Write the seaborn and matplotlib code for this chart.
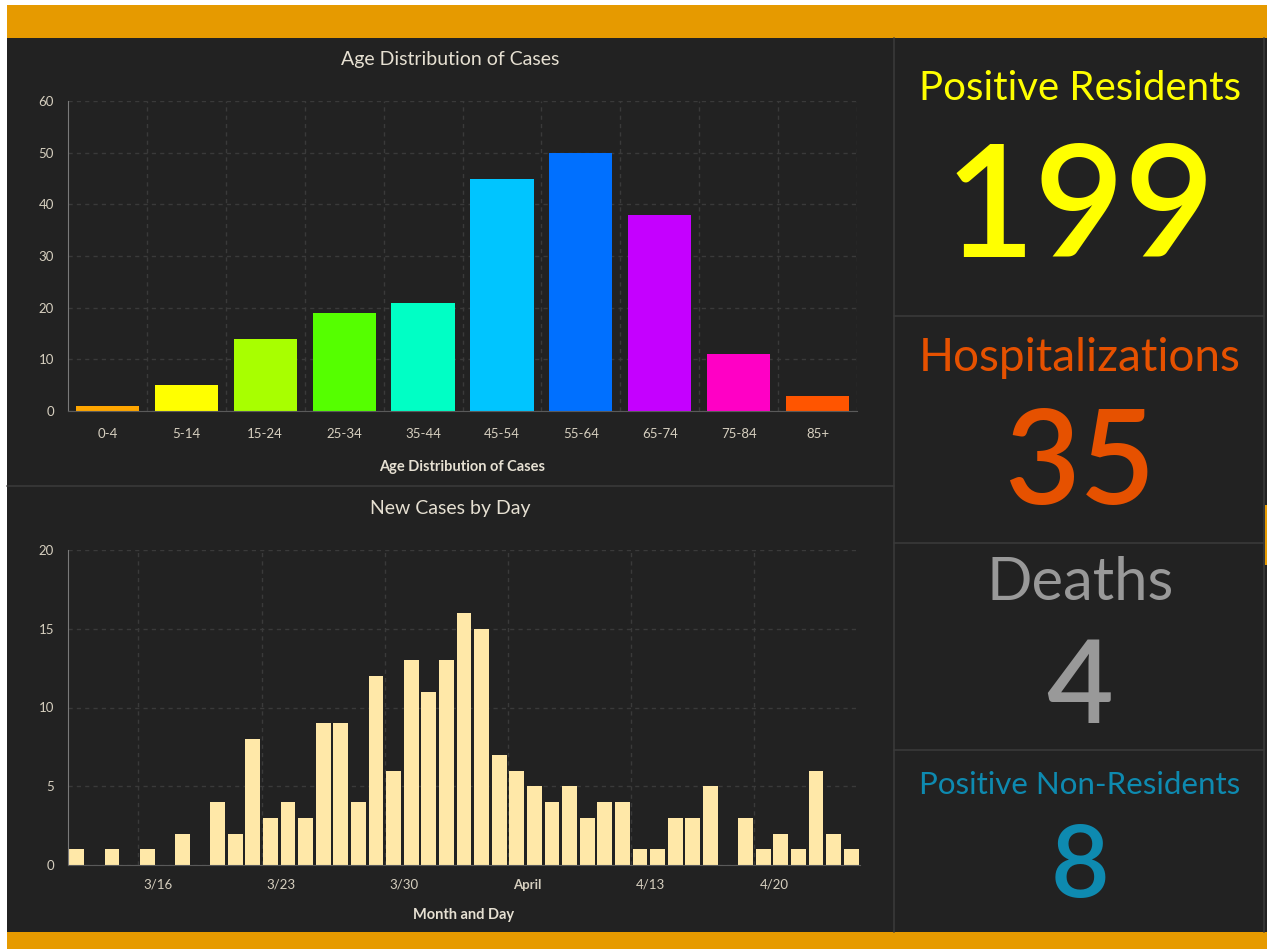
import numpy as np
import pandas as pd
import matplotlib
matplotlib.use('Agg')
import matplotlib.pyplot as plt
import matplotlib.transforms as mtransforms
from matplotlib.patches import Rectangle
from matplotlib.lines import Line2D
import seaborn as sns

# =========================
# DATA
# =========================

age_groups = ['0-4', '5-14', '15-24', '25-34', '35-44',
              '45-54', '55-64', '65-74', '75-84', '85+']
age_cases = [1, 5, 14, 19, 21, 45, 50, 38, 11, 3]
age_colors = ['#ffa600', '#ffff00', '#a8ff00', '#55ff00', '#00ffc5',
              '#00c5ff', '#0070ff', '#c500ff', '#ff00c5', '#ff5500']

# one bar per day, 3/12 .. 4/25
day_dates = pd.date_range('2020-03-12', '2020-04-25', freq='D')
day_cases = [1, 0, 1, 0, 1, 0, 2, 0, 4, 2,
             8, 3, 4, 3, 9, 9, 4, 12, 6, 13,
             11, 13, 16, 15, 7, 6, 5, 4, 5, 3,
             4, 4, 1, 1, 3, 3, 5, 0, 3, 1,
             2, 1, 6, 2, 1]
week_ticks = ['2020-03-16', '2020-03-23', '2020-03-30',
              '2020-04-06', '2020-04-13', '2020-04-20']
week_labels = ['3/16', '3/23', '3/30', 'April', '4/13', '4/20']

indicator_titles = ['Positive Residents', 'Hospitalizations',
                    'Deaths', 'Positive Non-Residents']
indicator_values = [199, 35, 4, 8]
indicator_colors = ['#ffff00', '#e65100', '#999999', '#0e8ab0']

# =========================
# STYLE
# =========================

W, H = 1267, 949
BG = '#222222'
ORANGE = '#e69a00'
LINE = '#3a3a3a'
TEXT = '#e6e0d2'
TICK = '#d6cfbf'

sns.set_style('dark', {
    'axes.facecolor': BG,
    'figure.facecolor': 'white',
    'axes.edgecolor': '#707070',
    'grid.color': LINE,
})
plt.rcParams['font.family'] = ['Lato', 'DejaVu Sans']


def fx(px):
    return px / W


def fy(py):
    return 1 - py / H


fig = plt.figure(figsize=(W / 100, H / 100), dpi=100)

# background, banners, dividers
fig.patches.append(Rectangle((fx(7), 0), 1 - fx(7), fy(5), transform=fig.transFigure,
                             facecolor=BG, edgecolor='none', zorder=-3))
fig.patches.append(Rectangle((fx(7), fy(38)), 1 - fx(7), (38 - 5) / H, transform=fig.transFigure,
                             facecolor=ORANGE, edgecolor='none', zorder=-2))
fig.patches.append(Rectangle((fx(7), 0), 1 - fx(7), (H - 932) / H, transform=fig.transFigure,
                             facecolor=ORANGE, edgecolor='none', zorder=-2))
fig.patches.append(Rectangle((fx(1265), fy(565)), fx(2), 60 / H, transform=fig.transFigure,
                             facecolor=ORANGE, edgecolor='none', zorder=-2))

for xs, ys in [([894, 894], [38, 932]), ([1264, 1264], [38, 932]),
               ([7, 894], [486, 486]), ([894, 1264], [316, 316]),
               ([894, 1264], [543, 543]), ([894, 1264], [750, 750])]:
    fig.lines.append(Line2D([fx(x) for x in xs], [fy(y) for y in ys],
                            transform=fig.transFigure, color=LINE, linewidth=1.2))


def style_axis(ax):
    ax.set_facecolor(BG)
    for side in ['top', 'right']:
        ax.spines[side].set_visible(False)
    ax.spines['left'].set_color('#7a7a7a')
    ax.spines['bottom'].set_color('#5a5a5a')
    ax.tick_params(axis='both', colors='#7a7a7a', labelcolor=TICK,
                   labelsize=9.5, length=5, width=1)
    ax.tick_params(axis='y', pad=5)
    ax.grid(True, axis='y', linestyle=(0, (3, 3)), color=LINE, linewidth=1)


# panel titles sit over the panel centre (x=450), not the axes centre
ax_left, ax_right = 68, 857
title_x = (450 - ax_left) / (ax_right - ax_left)

# ---------------------------------
# 1. Age distribution
# ---------------------------------

ax1 = fig.add_axes([fx(ax_left), fy(411), fx(ax_right) - fx(ax_left), (411 - 101) / H])

age_df = pd.DataFrame({'age': age_groups, 'cases': age_cases})
sns.barplot(data=age_df, x='age', y='cases', hue='age', palette=age_colors,
            saturation=1, width=0.8, legend=False, linewidth=0, ax=ax1)

style_axis(ax1)
ax1.set_ylim(0, 60)
ax1.set_yticks(range(0, 61, 10))
ax1.set_xlim(-0.5, len(age_groups) - 0.5)
ax1.set_xticks(np.arange(len(age_groups)) + 0.5, minor=True)
ax1.grid(True, axis='x', which='minor', linestyle=(0, (3, 3)), color=LINE, linewidth=1)
ax1.tick_params(axis='x', which='minor', length=0)
ax1.tick_params(axis='x', which='major', pad=7)
ax1.set_title('Age Distribution of Cases', color=TEXT, fontsize=14, pad=26, x=title_x)
ax1.set_xlabel('Age Distribution of Cases', color=TEXT, fontsize=10.5,
               fontweight='bold', labelpad=15)
ax1.set_ylabel('')

# ---------------------------------
# 2. New cases by day
# ---------------------------------

ax2 = fig.add_axes([fx(ax_left), fy(865), fx(860) - fx(ax_left), (865 - 550) / H])

day_df = pd.DataFrame({'day': day_dates.strftime('%m/%d'), 'cases': day_cases})
sns.barplot(data=day_df, x='day', y='cases', color='#ffe8a8',
            saturation=1, width=0.85, linewidth=0, ax=ax2)

style_axis(ax2)
ax2.set_ylim(0, 20)
ax2.set_yticks(range(0, 21, 5))
ax2.set_xlim(-0.5, len(day_cases) - 0.5)
tick_pos = [day_dates.get_loc(pd.Timestamp(d)) - 0.5 for d in week_ticks]
ax2.set_xticks(tick_pos)
ax2.set_xticklabels(week_labels)
ax2.grid(True, axis='x', linestyle=(0, (3, 3)), color=LINE, linewidth=1)
ax2.tick_params(axis='x', pad=5)
shift = mtransforms.ScaledTranslation(5 / 100, 0, fig.dpi_scale_trans)
for lab in ax2.get_xticklabels():
    lab.set_horizontalalignment('left')
    lab.set_transform(lab.get_transform() + shift)
    if lab.get_text() == 'April':
        lab.set_fontweight('bold')
ax2.set_title('New Cases by Day', color=TEXT, fontsize=14, pad=26,
              x=(450 - ax_left) / (860 - ax_left))
ax2.set_xlabel('Month and Day', color=TEXT, fontsize=10.5,
               fontweight='bold', labelpad=12)
ax2.set_ylabel('')

# ---------------------------------
# 3. Indicators
# ---------------------------------

title_sizes = [29, 33, 43, 22.5]
title_base = [100, 371, 600, 794]
value_sizes = [112, 94, 83, 73]
value_base = [257, 504, 723, 897]

for i in range(len(indicator_titles)):
    fig.text(fx(1080), fy(title_base[i]), indicator_titles[i],
             color=indicator_colors[i], fontsize=title_sizes[i],
             ha='center', va='baseline')
    fig.text(fx(1080), fy(value_base[i]), str(indicator_values[i]),
             color=indicator_colors[i], fontsize=value_sizes[i],
             fontweight='semibold', ha='center', va='baseline')

fig.savefig('out.png', dpi=100)
